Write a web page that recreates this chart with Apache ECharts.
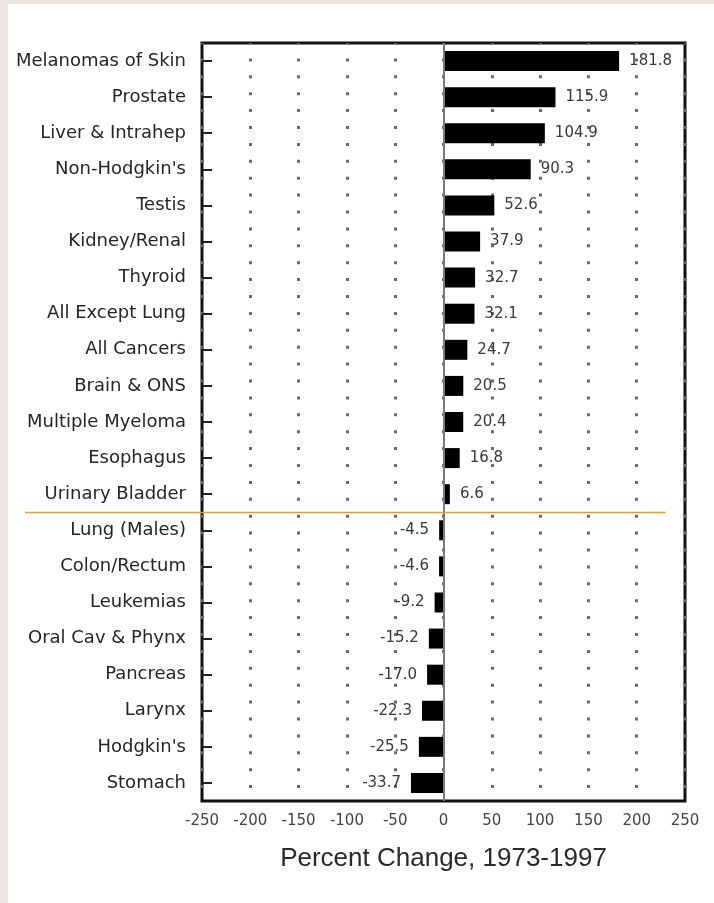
<!DOCTYPE html>
<html>
<head>
<meta charset="utf-8">
<script src="https://cdn.jsdelivr.net/npm/echarts@6/dist/echarts.min.js"></script>
<style>
  html, body { margin: 0; padding: 0; background: #ebe6e1; }
  #chart { position: absolute; left: 8px; top: 4px; width: 706px; height: 899px; background: #fff; }
</style>
</head>
<body>
<div id="chart"></div>
<script>
// sites, top to bottom
const sites = [
  'Melanomas of Skin', 'Prostate', 'Liver & Intrahep', "Non-Hodgkin's", 'Testis',
  'Kidney/Renal', 'Thyroid', 'All Except Lung', 'All Cancers', 'Brain & ONS',
  'Multiple Myeloma', 'Esophagus', 'Urinary Bladder', 'Lung (Males)', 'Colon/Rectum',
  'Leukemias', 'Oral Cav & Phynx', 'Pancreas', 'Larynx', "Hodgkin's", 'Stomach'
];
// percent change 1973-1997
const pctChange = [
  181.8, 115.9, 104.9, 90.3, 52.6,
  37.9, 32.7, 32.1, 24.7, 20.5,
  20.4, 16.8, 6.6, -4.5, -4.6,
  -9.2, -15.2, -17.0, -22.3, -25.5, -33.7
];
const xMin = -250, xMax = 250, xStep = 50;
const splitAfter = 'Urinary Bladder'; // orange separator below this row
const splitLineEnd = 230;             // separator runs to this x value

const chart = echarts.init(document.getElementById('chart'));
const font = 'DejaVu Sans';

chart.setOption({
  animation: false,
  grid: {
    left: 194, top: 39, width: 483, height: 758,
    show: true, borderColor: '#111', borderWidth: 3, backgroundColor: 'transparent'
  },
  xAxis: {
    type: 'value',
    min: xMin, max: xMax, interval: xStep,
    axisLine: { show: false },
    axisTick: { show: false },
    axisLabel: { color: '#444', fontFamily: font, fontSize: 15, margin: 13 },
    splitLine: {
      show: true,
      lineStyle: { color: '#6a6a6a', width: 3, type: [3, 13.9], dashOffset: 1.5 }
    },
    name: 'Percent Change, 1973-1997',
    nameLocation: 'middle',
    nameGap: 45,
    nameTextStyle: { color: '#2a2a2a', fontFamily: 'Liberation Sans', fontSize: 26 }
  },
  yAxis: {
    type: 'category',
    inverse: true,
    data: sites,
    axisLine: { show: false, onZero: false },
    axisTick: { show: true, inside: true, length: 10, alignWithLabel: true, lineStyle: { color: '#222', width: 2 } },
    axisLabel: { color: '#262626', fontFamily: font, fontSize: 18, margin: 16 },
    splitLine: { show: false }
  },
  series: [{
    type: 'bar',
    data: pctChange.map(v => v < 0
      ? { value: v, label: { position: 'left' } }
      : v),
    barWidth: 20,
    itemStyle: { color: '#000' },
    label: {
      show: true,
      position: 'right',
      distance: 10,
      color: '#3a3a3a',
      fontFamily: font,
      fontSize: 15,
      formatter: p => p.value.toFixed(1)
    },
    markLine: {
      silent: true,
      symbol: 'none',
      label: { show: false },
      lineStyle: { color: '#7a7a7a', width: 2, type: 'solid' },
      data: [{ xAxis: 0 }]
    }
  }]
});

// orange separator between the positive and negative groups
const idx = sites.indexOf(splitAfter);
const yA = chart.convertToPixel({ yAxisIndex: 0 }, sites[idx]);
const yB = chart.convertToPixel({ yAxisIndex: 0 }, sites[idx + 1]);
const ySep = Math.round((yA + yB) / 2) + 0.5;
const xEnd = chart.convertToPixel({ xAxisIndex: 0 }, splitLineEnd);
chart.setOption({
  graphic: [{
    type: 'line',
    z: 100,
    shape: { x1: 17, y1: ySep, x2: xEnd, y2: ySep },
    style: { stroke: '#f39c1e', lineWidth: 1.5 }
  }]
});
</script>
</body>
</html>
